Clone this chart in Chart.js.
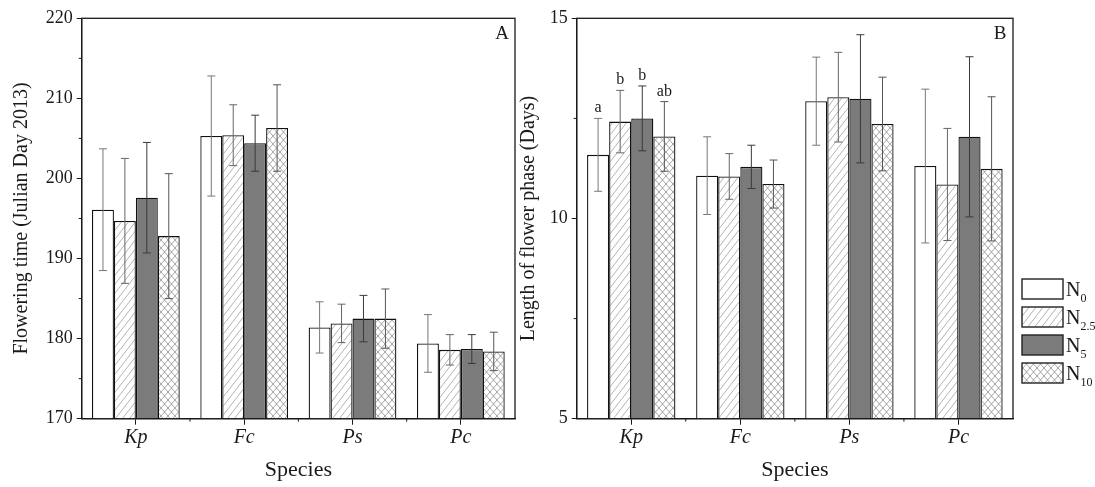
<!DOCTYPE html>
<html>
<head>
<meta charset="utf-8">
<script src="https://cdn.jsdelivr.net/npm/chart.js@4.4.1/dist/chart.umd.min.js"></script>
<style>
  html, body { margin: 0; padding: 0; background: #fff; }
  #wrap { position: relative; width: 1095px; height: 487px; overflow: hidden; }
  #chartA { position: absolute; left: 0; top: 0; }
  #chartB { position: absolute; left: 505px; top: 0; }
</style>
</head>
<body>
<div id="wrap">
  <canvas id="chartA" width="530" height="487"></canvas>
  <canvas id="chartB" width="590" height="487"></canvas>
</div>
<script>
// Categories and series
const species = ['Kp', 'Fc', 'Ps', 'Pc'];
const seriesSubs = ['0', '2.5', '5', '10'];

// Panel A: flowering time (Julian day 2013), mean and error
const floweringN0 = [196.1, 205.3, 181.4, 179.4];
const floweringN25 = [194.7, 205.4, 181.9, 178.6];
const floweringN5 = [197.6, 204.4, 182.5, 178.7];
const floweringN10 = [192.8, 206.3, 182.5, 178.4];
const floweringErrN0 = [7.6, 7.5, 3.2, 3.6];
const floweringErrN25 = [7.8, 3.8, 2.4, 1.9];
const floweringErrN5 = [6.9, 3.5, 2.9, 1.8];
const floweringErrN10 = [7.8, 5.4, 3.7, 2.4];

// Panel B: length of flower phase (days), mean and error
const phaseN0 = [11.59, 11.07, 12.93, 11.31];
const phaseN25 = [12.42, 11.05, 13.03, 10.85];
const phaseN5 = [12.50, 11.29, 12.99, 12.04];
const phaseN10 = [12.05, 10.86, 12.36, 11.24];
const phaseErrN0 = [0.91, 0.97, 1.10, 1.92];
const phaseErrN25 = [0.78, 0.57, 1.12, 1.40];
const phaseErrN5 = [0.81, 0.54, 1.60, 2.00];
const phaseErrN10 = [0.87, 0.60, 1.17, 1.80];

// Significance letters above Kp in panel B
const kpLetters = ['a', 'b', 'b', 'ab'];

// Axis ticks
const ticksA = { min: 170, max: 220, step: 10 };
const ticksB = { min: 5, max: 15, step: 5 };

const serif = '"Liberation Serif", "DejaVu Serif", serif';
const ink = '#1a1a1a';

function makePattern(cross) {
    const w = 7, h = cross ? 8 : 9;
    const c = document.createElement('canvas');
    c.width = w; c.height = h;
    const g = c.getContext('2d');
    g.fillStyle = '#fff';
    g.fillRect(0, 0, w, h);
    g.strokeStyle = cross ? '#8a8a8a' : '#9a9a9a';
    g.lineWidth = 0.75;
    g.beginPath();
    [-w, 0, w].forEach(k => {
        g.moveTo(k, h); g.lineTo(k + w, 0);
        if (cross) { g.moveTo(k, 0); g.lineTo(k + w, h); }
    });
    g.stroke();
    return g.createPattern(c, 'repeat');
}

const fills = ['#ffffff', makePattern(false), '#7b7b7b', makePattern(true)];
const errColors = ['#777', '#666', '#3a3a3a', '#555'];

function buildSets(means, errs) {
    return means.map((m, i) => ({
        label: 'N' + seriesSubs[i],
        data: m,
        errors: errs[i],
        backgroundColor: fills[i],
        borderColor: '#111',
        borderWidth: 1.3,
        borderSkipped: 'bottom',
        barPercentage: 1.0,
        categoryPercentage: 0.81
    }));
}

// Error bars, letters, frame, minor ticks, panel letter, legend
const extrasPlugin = {
    id: 'extras',
    afterDatasetsDraw(chart, args, opts) {
        const ctx = chart.ctx;
        const y = chart.scales.y;
        ctx.save();
        chart.data.datasets.forEach((ds, di) => {
            const meta = chart.getDatasetMeta(di);
            meta.data.forEach((bar, i) => {
                const v = ds.data[i], e = ds.errors[i];
                const top = y.getPixelForValue(v + e);
                const bot = y.getPixelForValue(v - e);
                ctx.strokeStyle = errColors[di];
                ctx.lineWidth = 1;
                ctx.beginPath();
                ctx.moveTo(bar.x, top); ctx.lineTo(bar.x, bot);
                ctx.moveTo(bar.x - 4, top); ctx.lineTo(bar.x + 4, top);
                ctx.moveTo(bar.x - 4, bot); ctx.lineTo(bar.x + 4, bot);
                ctx.stroke();
                if (opts.letters && i === 0) {
                    ctx.fillStyle = ink;
                    ctx.font = '16px ' + serif;
                    ctx.textAlign = 'center';
                    ctx.textBaseline = 'alphabetic';
                    ctx.fillText(opts.letters[di], bar.x, top - 6);
                }
            });
        });
        ctx.restore();
    },
    afterDraw(chart, args, opts) {
        const ctx = chart.ctx;
        const a = chart.chartArea;
        const x = chart.scales.x, y = chart.scales.y;
        ctx.save();
        ctx.strokeStyle = ink;
        ctx.lineWidth = 1.3;
        ctx.strokeRect(a.left, a.top, a.right - a.left, a.bottom - a.top);
        // minor ticks on y axis
        ctx.lineWidth = 1;
        ctx.beginPath();
        for (let v = y.min + opts.step / 2; v < y.max; v += opts.step) {
            const py = y.getPixelForValue(v);
            ctx.moveTo(a.left - 3, py); ctx.lineTo(a.left, py);
        }
        // boundary ticks on x axis
        const half = (x.getPixelForValue(1) - x.getPixelForValue(0)) / 2;
        for (let i = 1; i < chart.data.labels.length; i++) {
            const px = x.getPixelForValue(i) - half;
            ctx.moveTo(px, a.bottom); ctx.lineTo(px, a.bottom + 3);
        }
        ctx.stroke();
        // panel letter
        ctx.fillStyle = ink;
        ctx.font = '19px ' + serif;
        ctx.textAlign = 'center';
        ctx.textBaseline = 'middle';
        ctx.fillText(opts.panel, a.right - 13, a.top + 16);
        // legend
        if (opts.legend) {
            chart.data.datasets.forEach((ds, i) => {
                const lx = a.right + 9, ly = 279 + 28 * i;
                ctx.fillStyle = ds.backgroundColor;
                ctx.fillRect(lx, ly, 41, 20);
                ctx.strokeStyle = '#222';
                ctx.lineWidth = 1.4;
                ctx.strokeRect(lx, ly, 41, 20);
                ctx.fillStyle = ink;
                ctx.textAlign = 'left';
                ctx.textBaseline = 'alphabetic';
                ctx.font = '20px ' + serif;
                ctx.fillText('N', lx + 44, ly + 17);
                const w = ctx.measureText('N').width;
                ctx.font = '12px ' + serif;
                ctx.fillText(seriesSubs[i], lx + 44 + w, ly + 23);
            });
        }
        ctx.restore();
    }
};

function makeChart(id, means, errs, t, yTitle, yWidth, rightPad, titlePad, pluginOpts) {
    return new Chart(document.getElementById(id), {
        type: 'bar',
        data: { labels: species, datasets: buildSets(means, errs) },
        plugins: [extrasPlugin],
        options: {
            responsive: false,
            animation: false,
            layout: { padding: { top: 18.3, right: rightPad, bottom: 0, left: 0 } },
            plugins: {
                legend: { display: false },
                tooltip: { enabled: false },
                extras: pluginOpts
            },
            scales: {
                x: {
                    offset: true,
                    grid: { display: true, drawOnChartArea: false, offset: false, tickLength: 6, color: ink },
                    border: { display: true, color: ink, width: 1.3 },
                    ticks: { color: ink, padding: 1, font: { family: serif, size: 20, style: 'italic' } },
                    title: {
                        display: true, text: 'Species', color: ink,
                        font: { family: serif, size: 22 }, padding: { top: 0, bottom: 4 }
                    },
                    afterFit: s => { s.height = 68.3; }
                },
                y: {
                    min: t.min, max: t.max,
                    ticks: { stepSize: t.step, color: ink, padding: 4, font: { family: serif, size: 18 } },
                    grid: { display: true, drawOnChartArea: false, tickLength: 5, color: ink },
                    border: { display: true, color: ink, width: 1.3 },
                    title: {
                        display: true, text: yTitle, color: ink,
                        font: { family: serif, size: 20 }, padding: { top: titlePad, bottom: 0 }
                    },
                    afterFit: s => { s.width = yWidth; }
                }
            }
        }
    });
}

makeChart('chartA',
    [floweringN0, floweringN25, floweringN5, floweringN10],
    [floweringErrN0, floweringErrN25, floweringErrN5, floweringErrN10],
    ticksA, 'Flowering time (Julian Day 2013)', 81.7, 15, 10,
    { panel: 'A', step: ticksA.step });

makeChart('chartB',
    [phaseN0, phaseN25, phaseN5, phaseN10],
    [phaseErrN0, phaseErrN25, phaseErrN5, phaseErrN10],
    ticksB, 'Length of flower phase (Days)', 71.7, 82, 12,
    { panel: 'B', step: ticksB.step, letters: kpLetters, legend: true });
</script>
</body>
</html>
